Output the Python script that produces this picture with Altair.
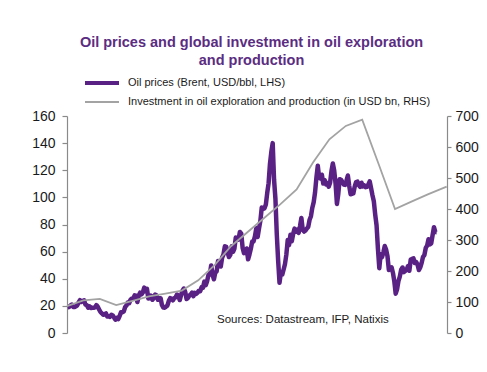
import altair as alt
import pandas as pd

# ---------------- data ----------------
years = list(range(1996, 2019))
# Monthly Brent prices (USD/bbl)
oil_by_year = {
    1996: [18.9, 19.1, 20.2, 21.0, 19.2, 19.1, 19.7, 20.4, 22.5, 24.2, 22.9, 23.6],
    1997: [24.1, 20.9, 20.6, 18.6, 19.6, 18.4, 18.6, 18.6, 18.9, 20.6, 19.4, 17.4],
    1998: [15.5, 14.5, 13.4, 13.8, 14.4, 12.1, 12.3, 11.9, 13.4, 12.9, 11.3, 9.8],
    1999: [11.1, 10.3, 12.5, 15.3, 15.3, 15.8, 19.0, 20.3, 22.5, 22.0, 24.6, 25.5],
    2000: [25.5, 27.8, 27.5, 22.8, 27.6, 29.7, 28.5, 29.9, 33.5, 30.9, 32.6, 25.5],
    2001: [25.6, 27.5, 24.5, 25.7, 28.4, 27.7, 24.5, 25.6, 25.6, 20.5, 18.8, 18.7],
    2002: [19.4, 20.3, 23.7, 25.7, 25.4, 24.1, 25.7, 26.3, 28.4, 27.5, 24.3, 28.0],
    2003: [31.2, 32.8, 30.3, 25.0, 25.8, 27.6, 28.4, 29.8, 27.1, 29.6, 28.8, 29.8],
    2004: [31.2, 30.9, 33.8, 33.4, 37.9, 35.2, 38.2, 42.7, 43.2, 49.8, 43.1, 39.6],
    2005: [44.5, 45.5, 53.1, 51.9, 49.0, 55.6, 57.9, 63.9, 63.5, 59.4, 56.0, 57.6],
    2006: [63.9, 59.9, 62.3, 70.4, 70.0, 68.9, 74.5, 73.2, 62.8, 58.9, 59.1, 62.3],
    2007: [54.3, 57.8, 62.1, 67.4, 67.5, 71.3, 77.2, 70.8, 77.1, 82.8, 92.5, 91.5],
    2008: [91.9, 94.8, 103.3, 110.4, 124.6, 133.5, 140.0, 113.0, 99.0, 72.8, 53.2, 37.0],
    2009: [44.9, 43.1, 46.8, 50.9, 57.9, 68.6, 64.9, 72.5, 67.7, 73.2, 77.0, 74.7],
    2010: [76.2, 73.8, 78.8, 84.8, 75.9, 74.8, 75.6, 77.1, 78.2, 83.5, 86.1, 92.4],
    2011: [96.5, 103.7, 114.6, 123.3, 114.5, 113.9, 116.7, 110.2, 112.8, 109.6, 110.5, 107.9],
    2012: [110.7, 119.3, 125.0, 119.8, 110.3, 95.2, 102.6, 113.4, 113.0, 111.5, 109.5, 109.2],
    2013: [112.3, 116.1, 108.5, 102.3, 102.6, 102.9, 107.9, 111.3, 111.6, 109.1, 107.8, 110.8],
    2014: [108.1, 108.9, 107.5, 107.8, 109.5, 111.8, 106.8, 101.6, 97.1, 87.4, 79.4, 62.3],
    2015: [47.8, 58.1, 55.9, 59.5, 64.1, 61.5, 56.6, 46.5, 47.6, 48.4, 44.3, 38.0],
    2016: [29.0, 32.2, 38.2, 41.6, 46.7, 48.3, 44.9, 45.8, 46.6, 49.3, 45.9, 54.1],
    2017: [54.6, 55.0, 51.6, 52.3, 50.3, 46.4, 48.5, 51.7, 56.2, 57.5, 62.7, 64.4],
    2018: [69.1, 65.3, 66.0, 72.1, 78.0, 74.4, 74.3],
}

# Investment in oil exploration and production (USD bn), yearly points
inv_years = [1996, 1997, 1998, 1999, 2000, 2001, 2002, 2003, 2004, 2005, 2006, 2007,
             2008, 2009, 2010, 2011, 2012, 2013, 2014, 2015, 2016, 2017, 2018, 2019.15]
inv_values = [87, 105, 110, 90, 104, 118, 127, 137, 170, 219, 280, 325,
              370, 415, 463, 550, 625, 668, 688, 545, 400, 424, 447, 472]

x_ticks = [1996, 1998, 2000, 2002, 2004, 2006, 2008, 2010, 2012, 2014, 2016, 2018]
left_ticks = [0, 20, 40, 60, 80, 100, 120, 140, 160]
right_ticks = [0, 100, 200, 300, 400, 500, 600, 700]

title_lines = ["Oil prices and global investment in oil exploration", "and production"]
legend_labels = ["Oil prices (Brent, USD/bbl, LHS)",
                 "Investment in oil exploration and production (in USD bn, RHS)"]
source_text = "Sources: Datastream, IFP, Natixis"

PURPLE = "#5a2185"
GREY = "#a3a3a3"
AXIS = "#8a8a8a"
FONT = "Liberation Sans"

# ---------------- tables ----------------
rows = []
for y in years:
    for m, v in enumerate(oil_by_year[y]):
        rows.append({"t": y + (m + 0.5) / 12.0, "price": v})
oil_df = pd.DataFrame(rows)
inv_df = pd.DataFrame({"t": inv_years, "inv": inv_values})

x_scale = alt.Scale(domain=[1996, 2019.17], nice=False, zero=False)

oil = alt.Chart(oil_df).mark_line(color=PURPLE, strokeWidth=4.5, strokeJoin="round").encode(
    x=alt.X("t:Q", scale=x_scale,
            axis=alt.Axis(values=x_ticks, title=None, grid=False, tickSize=5, labelPadding=5,
                          labelExpr="substring(toString(datum.value), 2, 4)")),
    y=alt.Y("price:Q", scale=alt.Scale(domain=[0, 160], nice=False),
            axis=alt.Axis(values=left_ticks, orient="left", title=None, grid=False,
                          tickSize=5, labelPadding=7)),
)

inv = alt.Chart(inv_df).mark_line(color=GREY, strokeWidth=1.8).encode(
    x=alt.X("t:Q", scale=x_scale, axis=None),
    y=alt.Y("inv:Q", scale=alt.Scale(domain=[0, 700], nice=False),
            axis=alt.Axis(values=right_ticks, orient="right", title=None, grid=False,
                          tickSize=4, labelPadding=4)),
)

one = pd.DataFrame({"a": [0]})
title1 = alt.Chart(one).mark_text(align="center", baseline="middle", font=FONT, fontSize=14.5,
                                  fontWeight="bold", color="#5b2d82").encode(
    x=alt.value(184.5), y=alt.value(-73), text=alt.value(title_lines[0]))
title2 = alt.Chart(one).mark_text(align="center", baseline="middle", font=FONT, fontSize=14.5,
                                  fontWeight="bold", color="#5b2d82").encode(
    x=alt.value(184.5), y=alt.value(-55), text=alt.value(title_lines[1]))
leg_oil = alt.Chart(one).mark_rule(color=PURPLE, strokeWidth=4).encode(
    x=alt.value(18), x2=alt.value(52), y=alt.value(-33))
leg_inv = alt.Chart(one).mark_rule(color=GREY, strokeWidth=1.8).encode(
    x=alt.value(18), x2=alt.value(52), y=alt.value(-14))
leg_txt1 = alt.Chart(one).mark_text(align="left", baseline="middle", font=FONT, fontSize=11,
                                    color="#1a1a1a").encode(
    x=alt.value(61), y=alt.value(-33), text=alt.value(legend_labels[0]))
leg_txt2 = alt.Chart(one).mark_text(align="left", baseline="middle", font=FONT, fontSize=11,
                                    color="#1a1a1a").encode(
    x=alt.value(61), y=alt.value(-14), text=alt.value(legend_labels[1]))
src = alt.Chart(one).mark_text(align="left", baseline="middle", font=FONT, fontSize=11.5,
                               color="#1a1a1a").encode(
    x=alt.value(150), y=alt.value(204), text=alt.value(source_text))

chart = alt.layer(oil, inv, title1, title2, leg_oil, leg_inv, leg_txt1, leg_txt2, src).resolve_scale(
    y="independent"
).properties(
    width=380, height=217,
    padding={"left": 59, "top": 108, "right": 32, "bottom": 31},
    autosize=alt.AutoSizeParams(type="none"),
).configure_view(stroke=None).configure_axis(
    domainColor=AXIS, tickColor=AXIS, domainWidth=1.2, tickWidth=1.2,
    labelFont=FONT, labelFontSize=14, labelColor="#1a1a1a",
)

chart.save("out.html", embed_options={"renderer": "svg", "actions": False})
